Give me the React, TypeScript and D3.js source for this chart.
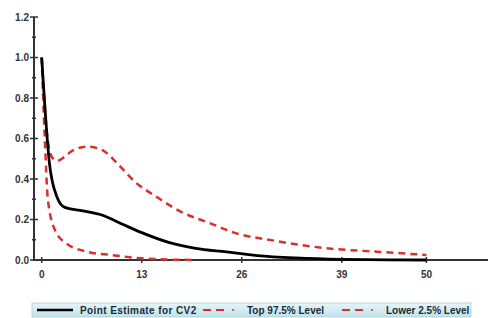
import { useEffect, useRef } from 'react'
import * as d3 from 'd3'

// values
const pointX = [0, 1, 2, 3, 5, 8, 10.6, 13, 16.5, 20, 24, 28, 33, 39, 45, 50]
const pointY = [1.0, 0.48, 0.31, 0.26, 0.245, 0.22, 0.175, 0.135, 0.087, 0.058, 0.04, 0.022, 0.01, 0.003, 0.001, 0]

const topX = [0, 0.7, 1.3, 2, 3, 4, 6, 8, 10, 12, 15, 18, 22, 25, 30, 37, 44, 50]
const topY = [1.0, 0.62, 0.51, 0.49, 0.51, 0.54, 0.56, 0.54, 0.47, 0.39, 0.31, 0.24, 0.18, 0.135, 0.097, 0.058, 0.04, 0.025]

const lowX = [0, 0.4, 0.8, 1.7, 3.2, 6, 9, 12.5, 16, 20]
const lowY = [1.0, 0.6, 0.3, 0.15, 0.082, 0.04, 0.025, 0.01, 0.003, 0]

const xTicks = [0, 13, 26, 39, 50]
const yTicks = [0, 0.2, 0.4, 0.6, 0.8, 1.0, 1.2]
const yMinor = [0.1, 0.3, 0.5, 0.7, 0.9, 1.1]

const legendItems = [
  { label: 'Point Estimate for CV2', color: '#000000', dashed: false },
  { label: 'Top 97.5% Level', color: '#d8302b', dashed: true },
  { label: 'Lower 2.5% Level', color: '#d8302b', dashed: true },
]

export default function App() {
  const svgRef = useRef<SVGSVGElement>(null)

  useEffect(() => {
    if (!svgRef.current) return
    const svg = d3.select(svgRef.current)
    svg.selectAll('*').remove()

    const x = d3.scaleLinear().domain([-1, 58]).range([34, 488])
    const y = d3.scaleLinear().domain([0, 1.2]).range([260, 17])

    svg.append('rect').attr('width', 489).attr('height', 318).attr('fill', '#ffffff')

    const line = d3.line<[number, number]>()
      .x(d => x(d[0]))
      .y(d => y(d[1]))
      .curve(d3.curveMonotoneX)

    const zip = (a: number[], b: number[]) => a.map((v, i) => [v, b[i]] as [number, number])

    // Axes
    const axisColor = '#333'
    svg.append('line')
      .attr('x1', 34).attr('x2', 34).attr('y1', y(1.2)).attr('y2', 261)
      .attr('stroke', axisColor).attr('stroke-width', 2)
    svg.append('line')
      .attr('x1', 33).attr('x2', 488).attr('y1', 260).attr('y2', 260)
      .attr('stroke', axisColor).attr('stroke-width', 2)

    yTicks.forEach(t => {
      svg.append('line')
        .attr('x1', 30).attr('x2', 38).attr('y1', y(t)).attr('y2', y(t))
        .attr('stroke', axisColor).attr('stroke-width', 1.5)
      svg.append('text')
        .attr('x', 29).attr('y', y(t) + 3.5)
        .attr('text-anchor', 'end')
        .attr('font-family', 'Liberation Sans, Arial, sans-serif')
        .attr('font-weight', 'bold')
        .attr('font-size', 10)
        .attr('fill', '#333')
        .text(t.toFixed(1))
    })
    yMinor.forEach(t => {
      svg.append('line')
        .attr('x1', 32).attr('x2', 36).attr('y1', y(t)).attr('y2', y(t))
        .attr('stroke', axisColor).attr('stroke-width', 1.5)
    })

    xTicks.forEach(t => {
      svg.append('line')
        .attr('x1', x(t)).attr('x2', x(t)).attr('y1', 257).attr('y2', 263)
        .attr('stroke', axisColor).attr('stroke-width', 1.5)
      svg.append('text')
        .attr('x', x(t)).attr('y', 278)
        .attr('text-anchor', 'middle')
        .attr('font-family', 'Liberation Sans, Arial, sans-serif')
        .attr('font-weight', 'bold')
        .attr('font-size', 10)
        .attr('fill', '#333')
        .text(t)
    })

    // Curves
    svg.append('path')
      .attr('d', line(zip(lowX, lowY)))
      .attr('fill', 'none').attr('stroke', '#d8302b').attr('stroke-width', 2.5)
      .attr('stroke-dasharray', '7,5')
    svg.append('path')
      .attr('d', line(zip(topX, topY)))
      .attr('fill', 'none').attr('stroke', '#d8302b').attr('stroke-width', 2.5)
      .attr('stroke-dasharray', '7,5')
    svg.append('path')
      .attr('d', line(zip(pointX, pointY)))
      .attr('fill', 'none').attr('stroke', '#000').attr('stroke-width', 2.8)

    // Legend
    const defs = svg.append('defs')
    const grad = defs.append('linearGradient').attr('id', 'lg').attr('x1', 0).attr('x2', 0).attr('y1', 0).attr('y2', 1)
    grad.append('stop').attr('offset', '0%').attr('stop-color', '#e6f5f8')
    grad.append('stop').attr('offset', '100%').attr('stop-color', '#bfe3ea')

    svg.append('rect')
      .attr('x', 32).attr('y', 303).attr('width', 439).attr('height', 14)
      .attr('fill', 'url(#lg)').attr('stroke', '#a9cfd6').attr('stroke-width', 0.8)

    const legendX = [37, 203, 342]
    legendItems.forEach((item, i) => {
      const g = svg.append('g').attr('transform', `translate(${legendX[i]},310)`)
      if (item.dashed) {
        g.append('line').attr('x1', 0).attr('x2', 23).attr('y1', 0).attr('y2', 0)
          .attr('stroke', item.color).attr('stroke-width', 2).attr('stroke-dasharray', '8,5')
        g.append('circle').attr('cx', 30).attr('cy', 0).attr('r', 1).attr('fill', item.color)
      } else {
        g.append('line').attr('x1', 0).attr('x2', 36).attr('y1', 0).attr('y2', 0)
          .attr('stroke', item.color).attr('stroke-width', 2.5)
      }
      g.append('text')
        .attr('x', item.dashed ? 44 : 43).attr('y', 3.5)
        .attr('font-family', 'Liberation Sans, Arial, sans-serif')
        .attr('font-weight', 'bold')
        .attr('font-size', 10)
        .attr('letter-spacing', i === 0 ? 0.4 : 0)
        .attr('fill', '#1c2a3a')
        .text(item.label)
    })
  }, [])

  return (
    <svg ref={svgRef} width={489} height={318}
      style={{ position: 'absolute', left: 0, top: 0, display: 'block' }} />
  )
}
